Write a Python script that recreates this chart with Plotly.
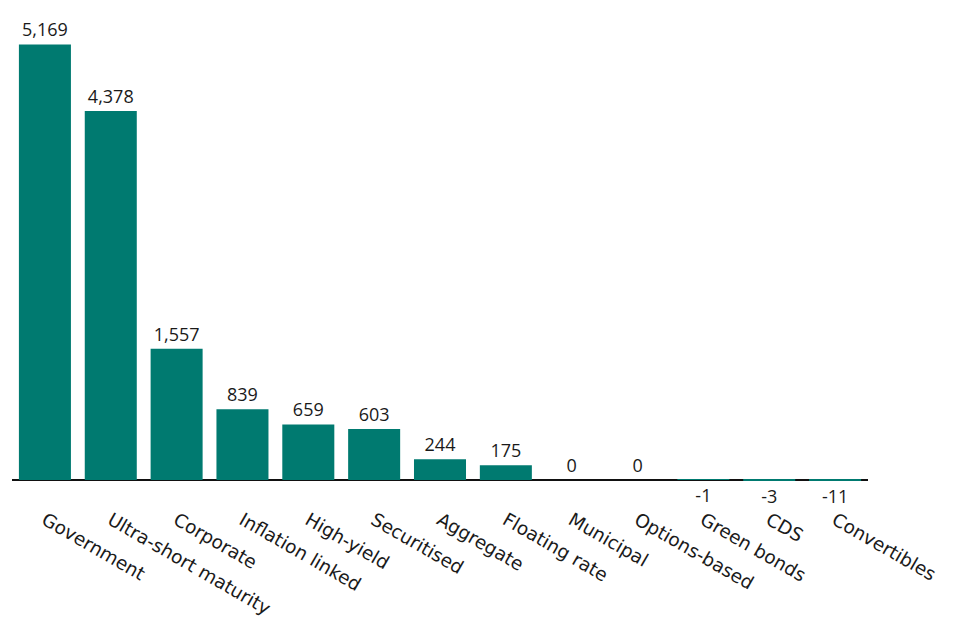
import plotly.graph_objects as go

categories = ["Government", "Ultra-short maturity", "Corporate", "Inflation linked",
              "High-yield", "Securitised", "Aggregate", "Floating rate", "Municipal",
              "Options-based", "Green bonds", "CDS", "Convertibles"]
values = [5169, 4378, 1557, 839, 659, 603, 244, 175, 0, 0, -1, -3, -11]
labels = ["5,169", "4,378", "1,557", "839", "659", "603", "244", "175", "0", "0", "-1", "-3", "-11"]

bar_color = "#007A70"
font_family = "'DejaVu Sans', sans-serif"
value_font = "'Open Sans', sans-serif"

fig = go.Figure(go.Bar(
    x=categories, y=values, text=labels, textposition="outside",
    textfont=dict(size=18, color="#1a1a1a", family=value_font),
    marker=dict(color=bar_color, line=dict(width=0)),
    cliponaxis=False, hoverinfo="skip",
))

fig.update_layout(
    width=974, height=641,
    margin=dict(l=4, r=114, t=17, b=167),
    paper_bgcolor="white", plot_bgcolor="white",
    bargap=0.21, showlegend=False,
    font=dict(family=font_family, size=17, color="#1a1a1a"),
)
fig.update_xaxes(tickangle=30, showline=False, showgrid=False, ticks="",
                 tickfont=dict(size=18.5, color="#1a1a1a", family=font_family),
                 ticklabelstandoff=23, automargin=False)
fig.update_yaxes(range=[-25, 5400], showgrid=False, showticklabels=False,
                 zeroline=True, zerolinecolor="#111111", zerolinewidth=2,
                 showline=False, ticks="")

fig.write_html("out.html")
